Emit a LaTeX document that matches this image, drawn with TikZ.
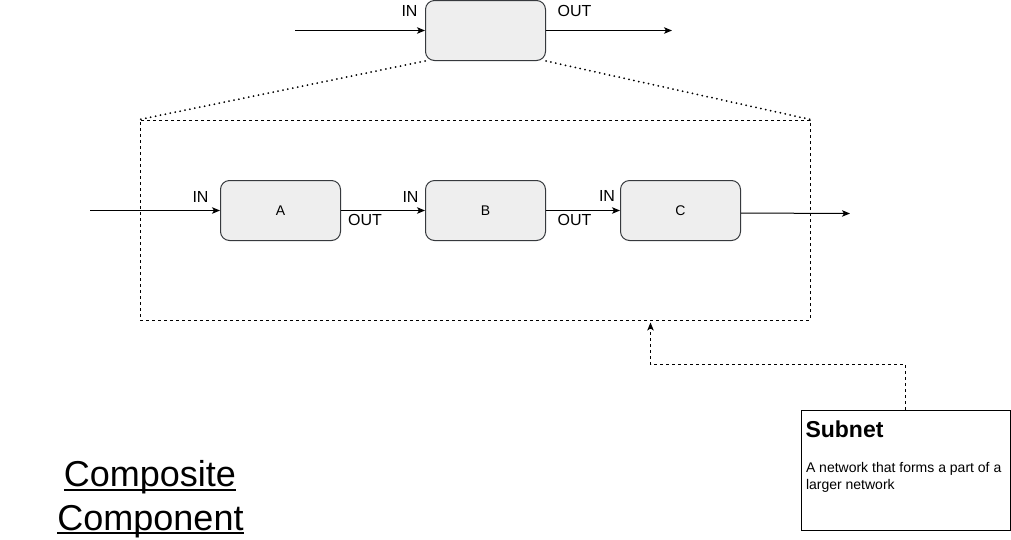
\documentclass[tikz,border=0pt]{standalone}
\usepackage{fontspec}
\setmainfont{Liberation Sans}
\usetikzlibrary{arrows.meta, positioning}
\definecolor{boxfill}{HTML}{EEEEEE}
\definecolor{boxline}{HTML}{36393D}
\newcommand{\undertext}[1]{\setbox0\hbox{#1}\rlap{\rule[-4.3pt]{\wd0}{2pt}}\box0}

\begin{document}
\begin{tikzpicture}[x=1pt, y=-1pt, line width=1pt,
		block/.style={draw=boxline, fill=boxfill, rounded corners=9pt, minimum width=120pt, minimum height=60pt, inner sep=0pt, font=\fontsize{14}{17}\selectfont},
		port/.style={inner sep=0pt, font=\fontsize{16}{19}\selectfont},
		flow/.style={-{Stealth[length=8pt, width=6.5pt, inset=2pt]}},
		hint/.style={dash pattern=on 3pt off 3pt},
		zoomline/.style={line width=2pt, line cap=round, dash pattern=on 0pt off 5pt}]
	\path[use as bounding box, fill=white] (0,0) rectangle (1011,539);

	% Draw the outer component
	\node[block] (comp) at (485.5,30.5) {};
	\coordinate (compin) at (295,30.5);
	\coordinate (compout) at (672,30.5);
	\draw[flow] (compin) -- (comp.west);
	\draw[flow] (comp.east) -- (compout);
	\node[port] (compinlabel) at (409.5,11) {IN};
	\node[port] (compoutlabel) at (574.5,11) {OUT};

	% Draw the subnet frame
	\node[draw, hint, minimum width=670pt, minimum height=200pt, inner sep=0pt] (net) at (475,220) {};
	\draw[zoomline] (comp.south west) -- (net.north west);
	\draw[zoomline] (comp.south east) -- (net.north east);

	% Draw the inner components
	\node[block] (A) at (280.5,210.5) {A};
	\node[block] (B) at (485.5,210.5) {B};
	\node[block] (C) at (680.5,210.5) {C};
	\coordinate (netin) at (90,210.5);
	\coordinate (netout) at (850,213.5);
	\draw[flow] (netin) -- (A.west);
	\draw[flow] (A.east) -- (B.west);
	\draw[flow] (B.east) -- (C.west);
	\draw[flow] ([yshift=-2.5pt]C.east) -- (netout);

	\node[port] (Ain) at (200.5,196.5) {IN};
	\node[port] (Aout) at (365,220) {OUT};
	\node[port] (Bin) at (410.5,196.5) {IN};
	\node[port] (Bout) at (574.5,220) {OUT};
	\node[port] (Cin) at (607,195.5) {IN};

	% Draw the note and its pointer
	\node[draw=black, minimum width=209pt, minimum height=120pt, inner sep=0pt] (note) at (905.5,470) {};
	\node[anchor=base west, inner sep=0pt, font=\fontsize{23}{27}\selectfont\bfseries] (notetitle) at (805,437.7) {Subnet};
	\node[anchor=base west, inner sep=0pt, align=left, font=\fontsize{14}{16.5}\selectfont] (notetext) at (805.5,489.2) {A network that forms a part of a\\larger network};
	\coordinate (notetip) at (650.5,322.5);
	\draw[flow, hint] (note.north) -- ++(0,-45) -| (notetip);

	% Draw the caption
	\node[anchor=base, inner sep=0pt, font=\fontsize{36}{43}\selectfont] (captiontop) at (150,486.7) {\undertext{Composite}};
	\node[anchor=base, inner sep=0pt, font=\fontsize{36}{43}\selectfont] (captionbottom) at (150.5,530) {\undertext{Component}};
\end{tikzpicture}
\end{document}
